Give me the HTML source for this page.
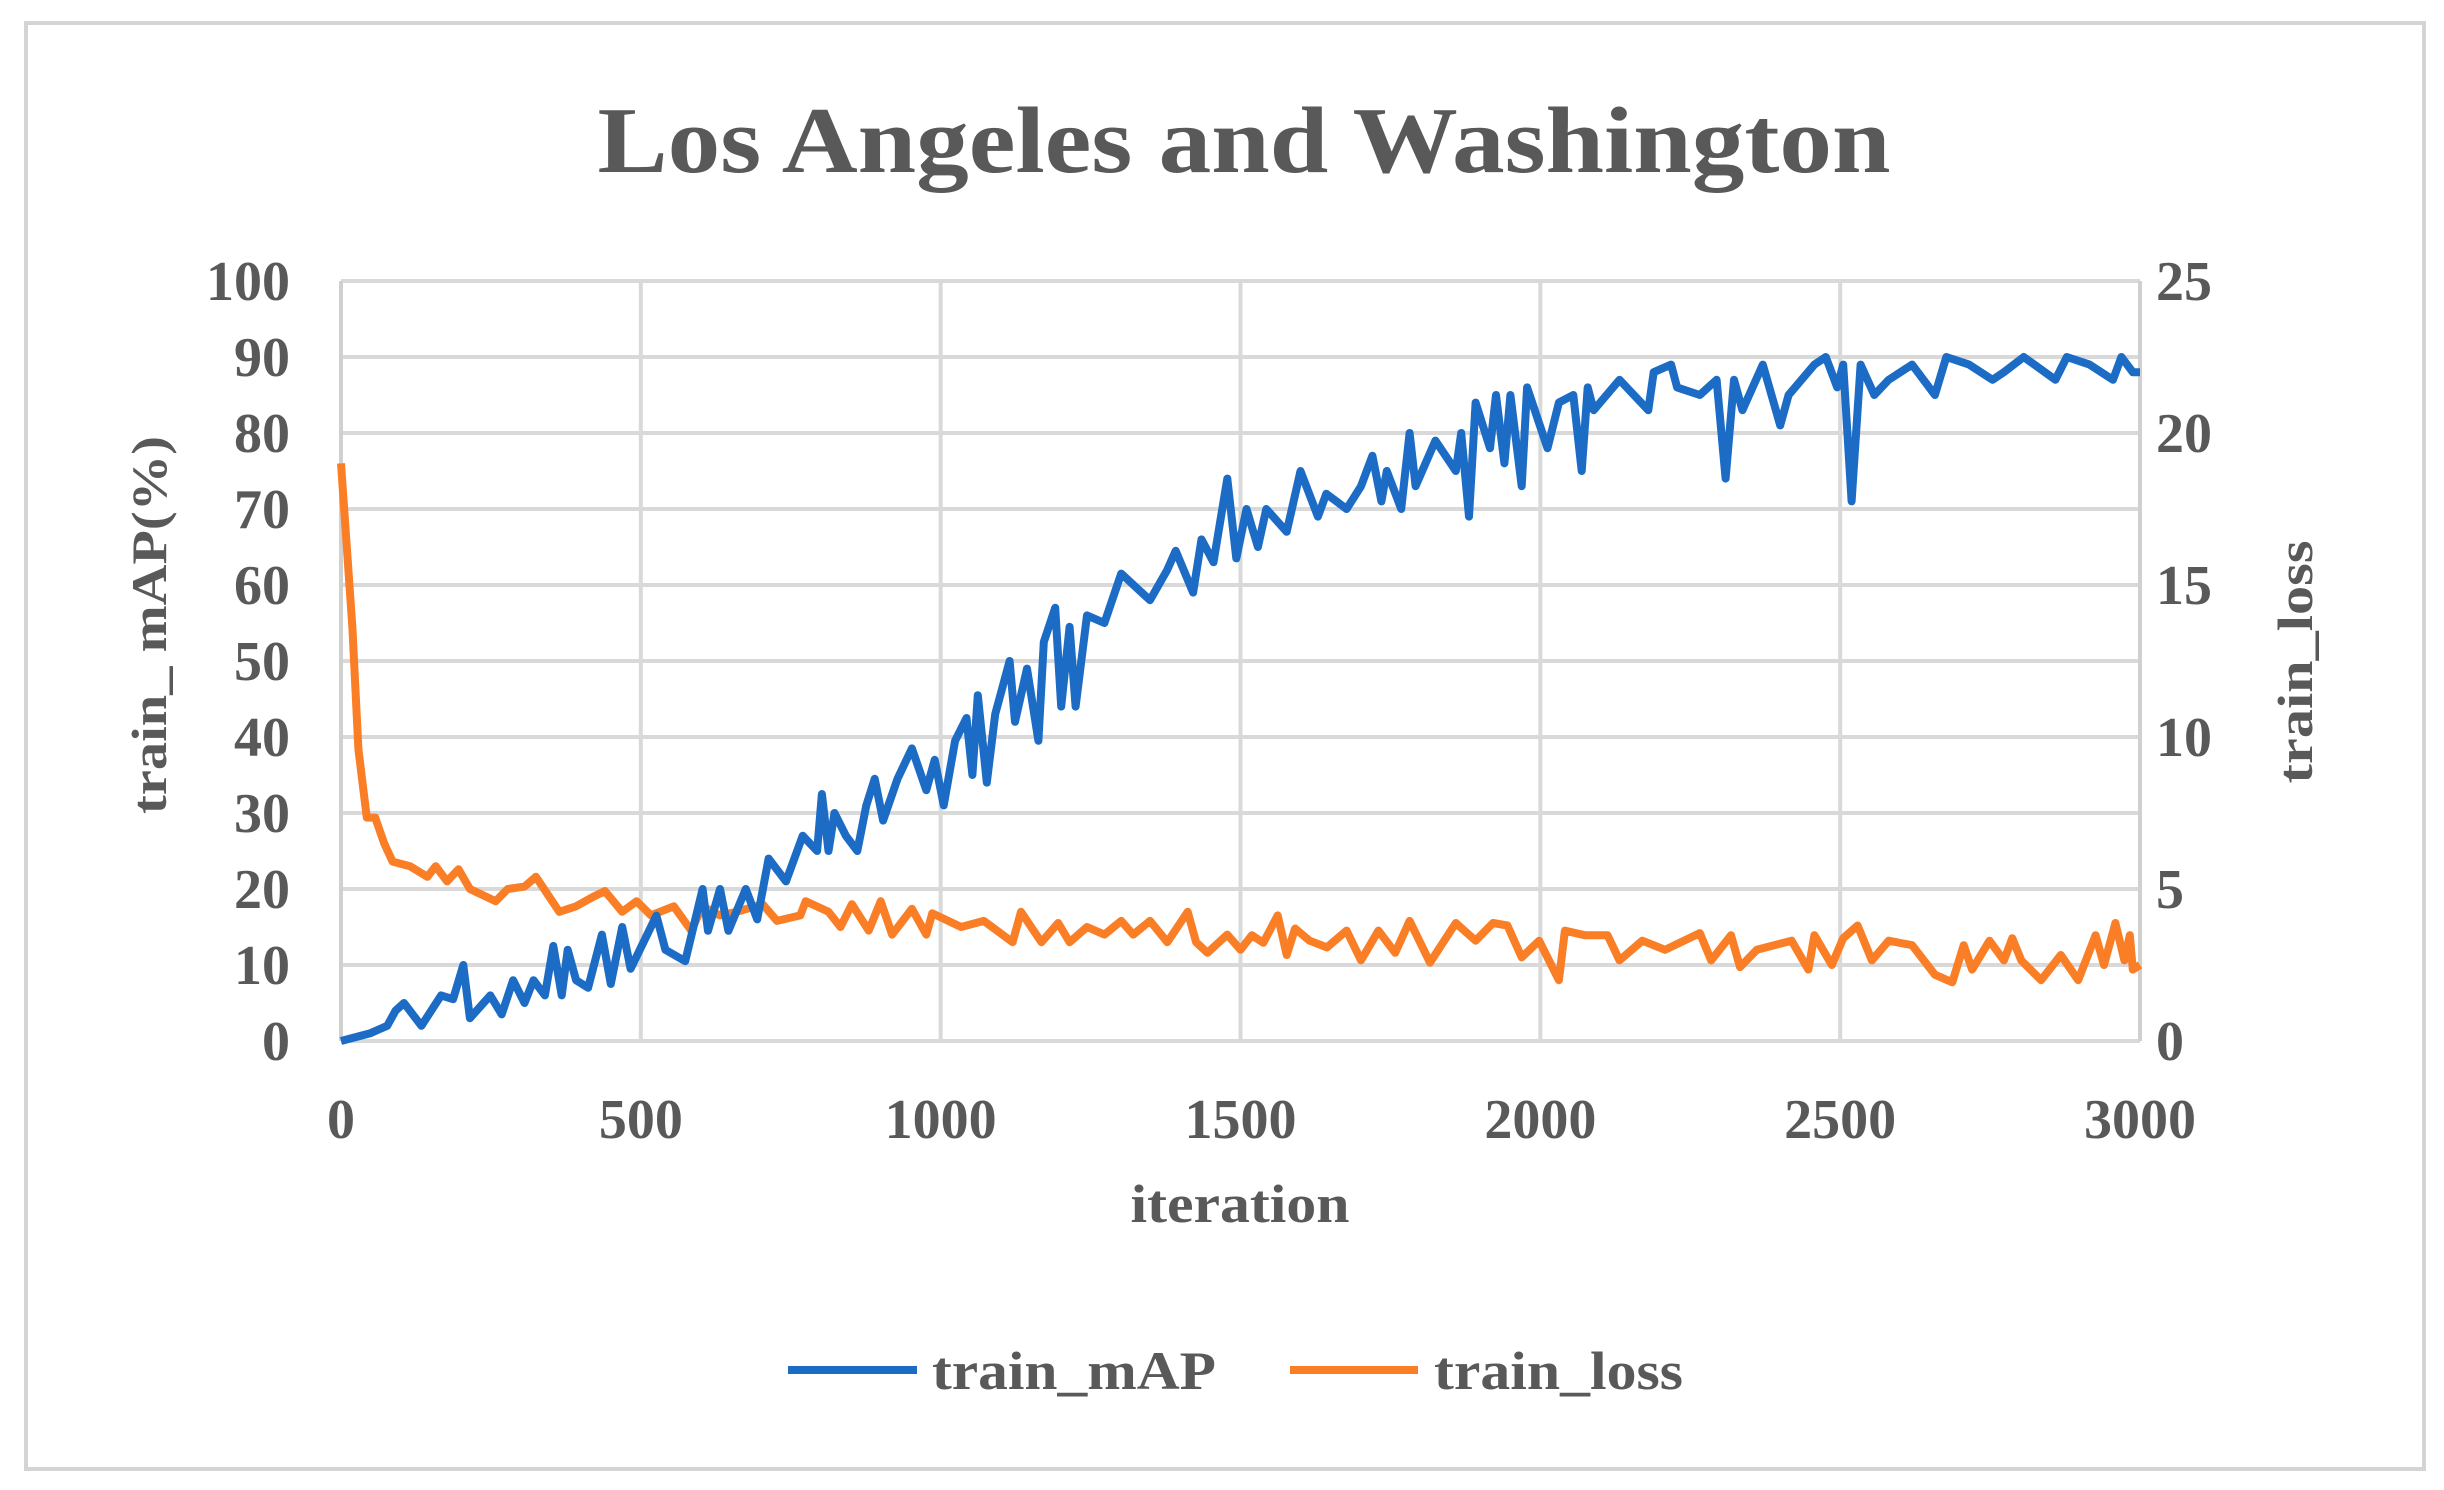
<!DOCTYPE html>
<html><head><meta charset="utf-8"><style>
html,body{margin:0;padding:0;background:#fff;}
svg{display:block;font-family:"Liberation Serif",serif;font-weight:bold;fill:#595959;}
</style></head><body>
<svg id="chart" width="2444" height="1490" viewBox="0 0 2444 1490">
<rect x="26" y="23" width="2398" height="1446" fill="#fff" stroke="#d4d4d4" stroke-width="4"/>
<text x="1244" y="172" font-size="94" text-anchor="middle" textLength="1293" lengthAdjust="spacingAndGlyphs">Los Angeles and Washington</text>
<g id="grid"></g>
<g id="ticks"></g>
<text transform="translate(166,625) rotate(-90)" font-size="50" text-anchor="middle" textLength="378" lengthAdjust="spacingAndGlyphs">train_ mAP(%)</text>
<text transform="translate(2312,662) rotate(-90)" font-size="50" text-anchor="middle" textLength="243" lengthAdjust="spacingAndGlyphs">train_loss</text>
<text x="1240" y="1222" font-size="54" text-anchor="middle" textLength="219" lengthAdjust="spacingAndGlyphs">iteration</text>
<g id="series"></g>
<g>
<g>
<line x1="788" y1="1370" x2="917" y2="1370" stroke="#1c6cc6" stroke-width="8"/>
<text x="932" y="1389" font-size="54" textLength="284" lengthAdjust="spacingAndGlyphs">train_mAP</text>
</g>
<g>
<line x1="1290" y1="1370" x2="1418" y2="1370" stroke="#f97e26" stroke-width="8"/>
<text x="1434" y="1389" font-size="54" textLength="249" lengthAdjust="spacingAndGlyphs">train_loss</text>
</g>
</g>
</svg>
<script>
const xTicks=[0,500,1000,1500,2000,2500,3000];
const yTicks=[0,10,20,30,40,50,60,70,80,90,100];
const y2Ticks=[0,5,10,15,20,25];
const mapIter=[0,48,77,91,105,134,167,187,204,215,249,268,287,306,321,340,354,368,378,392,412,435,450,469,483,526,541,574,603,612,632,646,675,694,713,742,770,794,802,813,823,842,861,876,890,904,928,952,976,990,1005,1024,1043,1053,1062,1077,1091,1115,1124,1144,1163,1172,1191,1201,1215,1225,1244,1273,1301,1349,1378,1392,1421,1435,1455,1478,1493,1510,1529,1543,1577,1600,1629,1643,1677,1701,1720,1735,1744,1768,1782,1792,1825,1859,1868,1881,1892,1916,1926,1940,1950,1969,1978,2012,2031,2055,2069,2079,2089,2132,2180,2189,2218,2228,2266,2294,2309,2323,2337,2371,2400,2414,2457,2476,2495,2505,2519,2534,2557,2581,2620,2658,2677,2715,2754,2773,2806,2859,2878,2916,2955,2969,2988,3000];
const mapVal=[0,1,2,4,5,2,6,5.5,10,3,6,3.5,8,5,8,6,12.5,6,12,8,7,14,7.5,15,9.5,16.5,12,10.5,20,14.5,20,14.5,20,16,24,21,27,25,32.5,25,30,27,25,31,34.5,29,34.5,38.5,33,37,31,39.5,42.5,35,45.5,34,43,50,42,49,39.5,52.5,57,44,54.5,44,56,55,61.5,58,62,64.5,59,66,63,74,63.5,70,65,70,67,75,69,72,70,73,77,71,75,70,80,73,79,75,80,69,84,78,85,76,85,73,86,78,84,85,75,86,83,87,83,88,89,86,85,87,74,87,83,89,81,85,89,90,86,89,71,89,85,87,89,85,90,89,87,88,90,87,90,89,87,90,88,88];
const lossIter=[0,19,29,43,57,72,86,115,144,158,177,196,215,258,278,306,325,364,392,421,440,469,493,517,555,584,603,632,660,703,727,766,775,813,833,852,880,900,919,952,976,986,1034,1072,1120,1134,1168,1196,1215,1244,1273,1301,1321,1349,1378,1412,1426,1445,1478,1500,1519,1538,1562,1577,1591,1615,1644,1677,1701,1730,1758,1782,1816,1859,1892,1921,1945,1969,1998,2031,2041,2074,2112,2132,2170,2208,2266,2285,2318,2333,2361,2419,2447,2457,2486,2505,2529,2553,2581,2620,2658,2687,2706,2720,2749,2773,2787,2802,2835,2868,2897,2926,2940,2959,2974,2983,2988,3000];
const lossVal=[19.0,13.6,9.6,7.35,7.35,6.5,5.9,5.75,5.4,5.75,5.25,5.65,5.0,4.6,5.0,5.08,5.4,4.25,4.43,4.75,4.93,4.25,4.6,4.13,4.43,3.63,4.43,4.13,4.25,4.5,3.95,4.13,4.6,4.25,3.75,4.5,3.63,4.6,3.5,4.35,3.5,4.2,3.75,3.95,3.25,4.25,3.25,3.88,3.25,3.75,3.5,3.95,3.5,3.95,3.25,4.25,3.25,2.9,3.5,3.0,3.48,3.23,4.13,2.83,3.7,3.3,3.08,3.63,2.65,3.63,2.9,3.95,2.58,3.88,3.3,3.88,3.8,2.75,3.3,2.0,3.63,3.48,3.48,2.65,3.3,3.0,3.55,2.65,3.48,2.43,3.0,3.3,2.35,3.48,2.5,3.38,3.8,2.65,3.3,3.15,2.18,1.93,3.15,2.35,3.3,2.65,3.38,2.65,2.0,2.83,2.0,3.48,2.5,3.88,2.65,3.48,2.35,2.5];

const NS='http://www.w3.org/2000/svg';
const L=341,R=2140,T=281,B=1041;
const xs=v=>L+(v/3000)*(R-L);
const ys=v=>B-(v/100)*(B-T);
const ys2=v=>B-(v/25)*(B-T);
const grid=document.getElementById('grid');
const ticks=document.getElementById('ticks');
function mk(tag,attrs,parent){const e=document.createElementNS(NS,tag);for(const k in attrs)e.setAttribute(k,attrs[k]);parent.appendChild(e);return e;}
yTicks.forEach(v=>{
  const l=mk('line',{x1:L,x2:R,y1:ys(v),y2:ys(v),stroke:'#d9d9d9','stroke-width':4},grid);
  
  
  const t=mk('text',{x:290,y:ys(v)+19,'font-size':56,'text-anchor':'end'},ticks);
  t.textContent=v;
  
  
});
xTicks.forEach(v=>{
  const l=mk('line',{x1:xs(v),x2:xs(v),y1:T,y2:B,stroke:'#d9d9d9','stroke-width':4},grid);
  
  
  const t=mk('text',{x:xs(v),y:1138,'font-size':56,'text-anchor':'middle'},ticks);
  t.textContent=v;
  
  
});
y2Ticks.forEach(v=>{
  const t=mk('text',{x:2156,y:ys2(v)+19,'font-size':56,'text-anchor':'start'},ticks);
  t.textContent=v;
  
  
});
const ax=mk('line',{x1:L,x2:L,y1:T,y2:B,stroke:'#d0d0d0','stroke-width':4},grid);


const ax2=mk('line',{x1:R,x2:R,y1:T,y2:B,stroke:'#d0d0d0','stroke-width':4},grid);


const series=document.getElementById('series');
const lossPts=lossIter.map((x,i)=>xs(x).toFixed(1)+','+ys2(lossVal[i]).toFixed(1)).join(' ');
const pl=mk('polyline',{points:lossPts,fill:'none',stroke:'#f97e26','stroke-width':8,'stroke-linejoin':'round'},series);


const mapPts=mapIter.map((x,i)=>xs(x).toFixed(1)+','+ys(mapVal[i]).toFixed(1)).join(' ');
const pm=mk('polyline',{points:mapPts,fill:'none',stroke:'#1c6cc6','stroke-width':8,'stroke-linejoin':'round'},series);


</script>
</body></html>
